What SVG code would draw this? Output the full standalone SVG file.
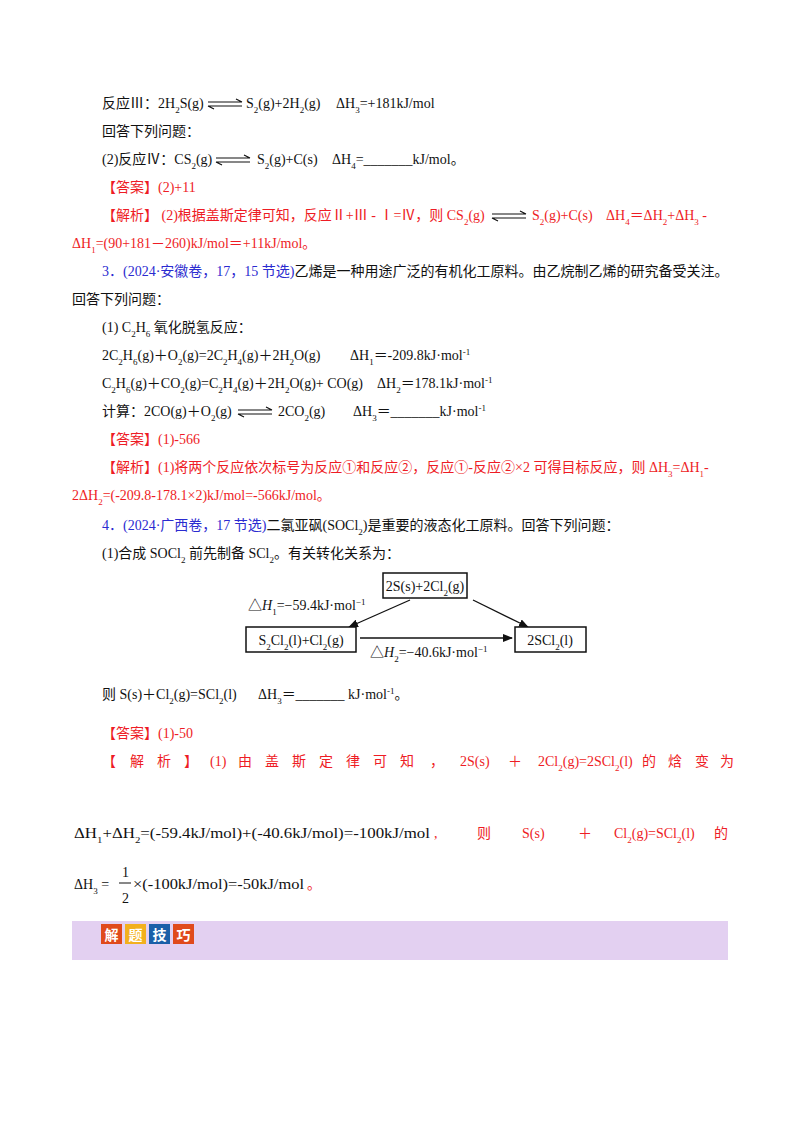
<svg xmlns="http://www.w3.org/2000/svg" width="800" height="1132" viewBox="0 0 800 1132">
<style>
text{font-family:"Liberation Serif","Times New Roman","Noto Sans CJK SC",serif;font-size:14px;fill:#111}
.r{fill:#ee1c25}.b{fill:#2b2bd0}
.s{font-size:9px;baseline-shift:sub}.p{font-size:9px;baseline-shift:super}
.eq{stroke:#111;stroke-width:1.2;fill:none}
.box{fill:#fff;stroke:#111;stroke-width:1.5}
.ln{stroke:#111;stroke-width:1.3}
</style>
<defs>
<marker id="ah" markerWidth="10" markerHeight="8" refX="9" refY="4" orient="auto" markerUnits="userSpaceOnUse"><path d="M0,0 L10,4 L0,8 Z" fill="#111"/></marker>
<g id="eqa"><path class="eq" d="M0,-2 H34 M28,-5 L34,-2"/><path class="eq" d="M0,2 H34 M0,2 L6,5"/></g>
</defs>
<rect width="800" height="1132" fill="#fff"/>
<text x="102" y="108">反应Ⅲ：2H<tspan class="s">2</tspan>S(g)</text>
<use href="#eqa" x="208" y="104"/>
<text x="246" y="108">S<tspan class="s">2</tspan>(g)+2H<tspan class="s">2</tspan>(g)<tspan x="336">ΔH</tspan><tspan class="s">3</tspan>=+181kJ/mol</text>
<text x="102" y="136">回答下列问题：</text>
<text x="102" y="164">(2)反应Ⅳ：CS<tspan class="s">2</tspan>(g)</text>
<use href="#eqa" x="216" y="160"/>
<text x="257" y="164">S<tspan class="s">2</tspan>(g)+C(s)<tspan x="332">ΔH</tspan><tspan class="s">4</tspan>=_______kJ/mol。</text>
<text x="102" y="192" class="r">【答案】(2)+11</text>
<text x="102" y="220" class="r">【解析】 (2)根据盖斯定律可知，反应Ⅱ+Ⅲ - Ⅰ=Ⅳ，则 CS<tspan class="s">2</tspan>(g)</text>
<use href="#eqa" x="492" y="216"/>
<text x="532" y="220" class="r">S<tspan class="s">2</tspan>(g)+C(s)<tspan x="606">ΔH</tspan><tspan class="s">4</tspan>＝ΔH<tspan class="s">2</tspan>+ΔH<tspan class="s">3</tspan> -</text>
<text x="72" y="248" class="r">ΔH<tspan class="s">1</tspan>=(90+181－260)kJ/mol＝+11kJ/mol。</text>
<text x="102" y="276"><tspan class="b">3．(2024·安徽卷，17，15 节选)</tspan>乙烯是一种用途广泛的有机化工原料。由乙烷制乙烯的研究备受关注。</text>
<text x="72" y="304">回答下列问题：</text>
<text x="102" y="332">(1) C<tspan class="s">2</tspan>H<tspan class="s">6</tspan> 氧化脱氢反应：</text>
<text x="102" y="360">2C<tspan class="s">2</tspan>H<tspan class="s">6</tspan>(g)＋O<tspan class="s">2</tspan>(g)=2C<tspan class="s">2</tspan>H<tspan class="s">4</tspan>(g)＋2H<tspan class="s">2</tspan>O(g)<tspan x="350">ΔH</tspan><tspan class="s">1</tspan>＝-209.8kJ·mol<tspan class="p">-1</tspan></text>
<text x="102" y="388">C<tspan class="s">2</tspan>H<tspan class="s">6</tspan>(g)＋CO<tspan class="s">2</tspan>(g)=C<tspan class="s">2</tspan>H<tspan class="s">4</tspan>(g)＋2H<tspan class="s">2</tspan>O(g)+ CO(g)<tspan x="377">ΔH</tspan><tspan class="s">2</tspan>＝178.1kJ·mol<tspan class="p">-1</tspan></text>
<text x="102" y="416">计算：2CO(g)＋O<tspan class="s">2</tspan>(g)</text>
<use href="#eqa" x="238" y="412"/>
<text x="278" y="416">2CO<tspan class="s">2</tspan>(g)<tspan x="353">ΔH</tspan><tspan class="s">3</tspan>＝_______kJ·mol<tspan class="p">-1</tspan></text>
<text x="102" y="444" class="r">【答案】(1)-566</text>
<text x="102" y="472" class="r">【解析】(1)将两个反应依次标号为反应①和反应②，反应①-反应②×2 可得目标反应，则 ΔH<tspan class="s">3</tspan>=ΔH<tspan class="s">1</tspan>-</text>
<text x="72" y="500" class="r">2ΔH<tspan class="s">2</tspan>=(-209.8-178.1×2)kJ/mol=-566kJ/mol。</text>
<text x="102" y="530"><tspan class="b">4．(2024·广西卷，17 节选)</tspan>二氯亚砜(SOCl<tspan class="s">2</tspan>)是重要的液态化工原料。回答下列问题：</text>
<text x="102" y="558">(1)合成 SOCl<tspan class="s">2</tspan> 前先制备 SCl<tspan class="s">2</tspan>。有关转化关系为：</text>
<g id="connectors">
<line class="ln" x1="410" y1="600" x2="349" y2="627" marker-end="url(#ah)"/>
<line class="ln" x1="473" y1="600" x2="528" y2="627" marker-end="url(#ah)"/>
<line class="ln" x1="360" y1="638" x2="512" y2="638" marker-end="url(#ah)"/>
<text x="248" y="610">△<tspan font-style="italic">H</tspan><tspan class="s">1</tspan>=−59.4kJ·mol<tspan class="p">−1</tspan></text>
<text x="370" y="657">△<tspan font-style="italic">H</tspan><tspan class="s">2</tspan>=−40.6kJ·mol<tspan class="p">−1</tspan></text>
</g>
<g id="n1"><rect class="box" x="383" y="573" width="84" height="25"/><text x="425" y="591" text-anchor="middle">2S(s)+2Cl<tspan class="s">2</tspan>(g)</text></g>
<g id="n2"><rect class="box" x="246" y="627" width="110" height="25"/><text x="301" y="645" text-anchor="middle">S<tspan class="s">2</tspan>Cl<tspan class="s">2</tspan>(l)+Cl<tspan class="s">2</tspan>(g)</text></g>
<g id="n3"><rect class="box" x="515" y="627" width="71" height="25"/><text x="550" y="645" text-anchor="middle">2SCl<tspan class="s">2</tspan>(l)</text></g>
<text x="102" y="699">则 S(s)＋Cl<tspan class="s">2</tspan>(g)=SCl<tspan class="s">2</tspan>(l)<tspan x="258">ΔH</tspan><tspan class="s">3</tspan>＝_______ kJ·mol<tspan class="p">-1</tspan>。</text>
<text x="102" y="738" class="r">【答案】(1)-50</text>
<text y="766" class="r"><tspan x="102">【</tspan><tspan x="130">解</tspan><tspan x="157">析</tspan><tspan x="184">】</tspan><tspan x="210">(1)</tspan><tspan x="238">由</tspan><tspan x="265">盖</tspan><tspan x="292">斯</tspan><tspan x="319">定</tspan><tspan x="346">律</tspan><tspan x="373">可</tspan><tspan x="400">知</tspan><tspan x="430">，</tspan><tspan x="460">2S(s)</tspan><tspan x="508">＋</tspan><tspan x="538">2Cl<tspan class="s">2</tspan>(g)=2SCl<tspan class="s">2</tspan>(l)</tspan><tspan x="642">的</tspan><tspan x="668">焓</tspan><tspan x="695">变</tspan><tspan x="720">为</tspan></text>
<text x="74" y="838" font-size="16" textLength="356" lengthAdjust="spacingAndGlyphs">ΔH<tspan class="s">1</tspan>+ΔH<tspan class="s">2</tspan>=(-59.4kJ/mol)+(-40.6kJ/mol)=-100kJ/mol</text>
<text y="838" class="r"><tspan x="434">,</tspan><tspan x="477">则</tspan><tspan x="522">S(s)</tspan><tspan x="578">＋</tspan><tspan x="614">Cl<tspan class="s">2</tspan>(g)=SCl<tspan class="s">2</tspan>(l)</tspan><tspan x="714">的</tspan></text>
<text x="74" y="889" font-size="16">ΔH<tspan class="s">3</tspan> =</text>
<text x="122" y="877" font-size="15">1</text>
<line x1="119" y1="883" x2="131" y2="883" stroke="#111" stroke-width="1"/>
<text x="122" y="903" font-size="15">2</text>
<text x="133" y="889" font-size="16" textLength="171" lengthAdjust="spacingAndGlyphs">×(-100kJ/mol)=-50kJ/mol</text>
<text x="307" y="889" class="r">。</text>
<rect x="72" y="921" width="656" height="39" fill="#e3d0f1"/>
<g font-family="'Noto Sans CJK SC',sans-serif">
<rect x="101" y="924" width="21" height="20" fill="#e04a1c"/><rect x="125" y="924" width="21" height="20" fill="#f2b01e"/><rect x="149" y="924" width="21" height="20" fill="#1b5fa8"/><rect x="173" y="924" width="21" height="20" fill="#e04a1c"/>
<text x="111.5" y="940" text-anchor="middle" style="fill:#fff;font-weight:bold;font-size:14px">解</text>
<text x="135.5" y="940" text-anchor="middle" style="fill:#fff;font-weight:bold;font-size:14px">题</text>
<text x="159.5" y="940" text-anchor="middle" style="fill:#fff;font-weight:bold;font-size:14px">技</text>
<text x="183.5" y="940" text-anchor="middle" style="fill:#fff;font-weight:bold;font-size:14px">巧</text>
</g>
</svg>
